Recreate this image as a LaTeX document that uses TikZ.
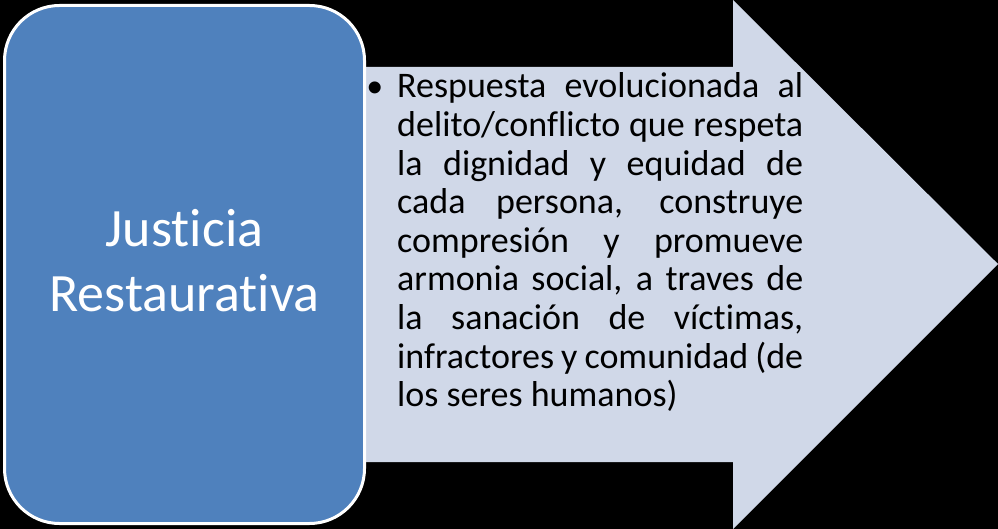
\documentclass[tikz,border=0pt]{standalone}
\usepackage{fontspec}
\setmainfont{Carlito}[Ligatures={NoCommon}]
\newfontfamily\bulletfont{Liberation Sans}
\definecolor{boxblue}{HTML}{4F81BD}
\definecolor{arrowgray}{HTML}{D0D8E8}
\tikzset{
  bigbox/.style={fill=boxblue, draw=white, line width=3pt, rounded corners=55pt},
  arrowshape/.style={fill=arrowgray},
  bodytext/.style={anchor=base west, inner sep=0pt, text=black, font=\fontsize{36}{38.6}\selectfont},
  titletext/.style={anchor=base, inner sep=0pt, text=white, font=\fontsize{54}{65}\selectfont}
}
\begin{document}
\begin{tikzpicture}[x=1pt,y=-1pt]
\fill[black] (0,0) rectangle (998,529);
\useasboundingbox (0,0) rectangle (998,529);
% arrow
\coordinate (a1) at (340,67);
\coordinate (a2) at (733,67);
\coordinate (a3) at (733,0);
\coordinate (tip) at (998,264);
\coordinate (a5) at (733,529);
\coordinate (a6) at (733,462);
\coordinate (a7) at (340,462);
\fill[arrowshape] (a1) -- (a2) -- (a3) -- (tip) -- (a5) -- (a6) -- (a7) -- cycle;
% blue box
\draw[bigbox] (4.5,5.5) rectangle (364.5,523.5);
\node[titletext] (title) at (184.5,247) {\parbox[t]{340pt}{\centering Justicia\\Restaurativa}};
% bullet text
\node[bodytext, anchor=base, font=\fontsize{44}{38.6}\bulletfont] (bullet) at (375,103) {•};
\node[bodytext] (desc) at (397,98) {\parbox[t]{406pt}{%
\makebox[406pt][s]{Respuesta evolucionada al}\\
\makebox[406pt][s]{delito/conflicto que respeta}\\
\makebox[406pt][s]{la dignidad y equidad de}\\
\makebox[406pt][s]{cada persona, construye}\\
\makebox[406pt][s]{compresión y promueve}\\
\makebox[406pt][s]{armonia social, a traves de}\\
\makebox[406pt][s]{la sanación de víctimas,}\\
\makebox[406pt][s]{infractores y comunidad (de}\\
los seres humanos)}};
\end{tikzpicture}
\end{document}
